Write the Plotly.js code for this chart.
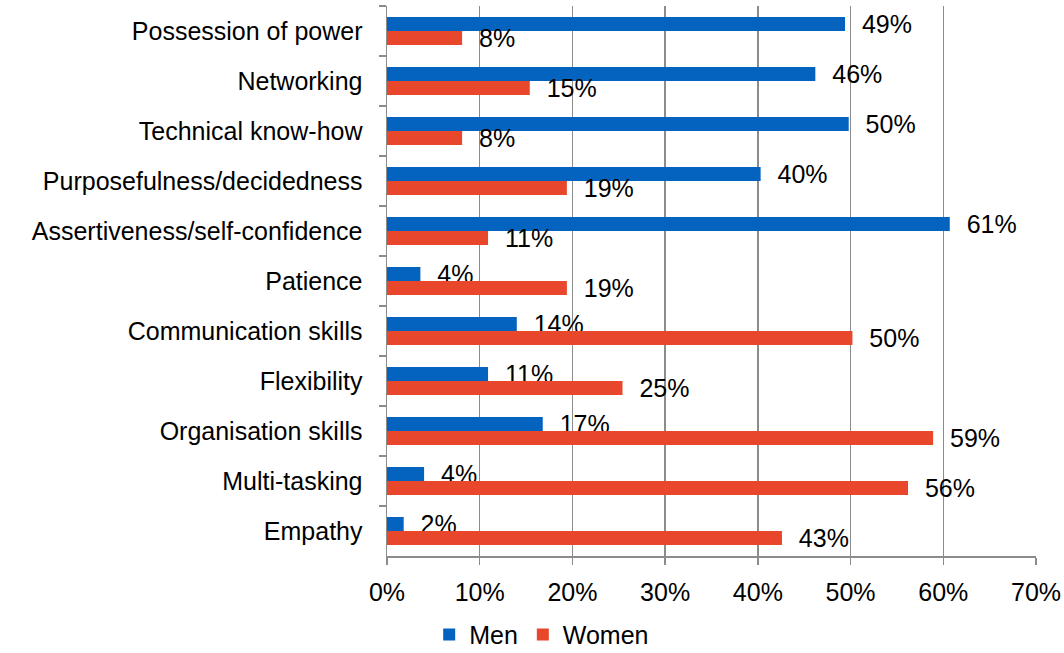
<!DOCTYPE html>
<html>
<head>
<meta charset="utf-8">
<script src="https://cdn.plot.ly/plotly-3.0.1.min.js"></script>
<style>html,body{margin:0;padding:0;background:#fff;}#chart{width:1064px;height:653px;}</style>
</head>
<body>
<div id="chart"></div>
<script>
const categories = [
  "Possession of power",
  "Networking",
  "Technical know-how",
  "Purposefulness/decidedness",
  "Assertiveness/self-confidence",
  "Patience",
  "Communication skills",
  "Flexibility",
  "Organisation skills",
  "Multi-tasking",
  "Empathy"
];
const menValues   = [49.4, 46.2, 49.8, 40.3, 60.7, 3.6, 14.0, 10.9, 16.8, 4.0, 1.8];
const womenValues = [8.1, 15.4, 8.1, 19.4, 10.9, 19.4, 50.2, 25.4, 58.9, 56.2, 42.6];
const xTickVals = [0, 10, 20, 30, 40, 50, 60, 70];
const xTickText = ["0%", "10%", "20%", "30%", "40%", "50%", "60%", "70%"];

const pad = "\u00A0\u00A0";
function labels(vals) { return vals.map(v => pad + Math.round(v) + "%"); }

const font = {family: "Liberation Sans, Arial, sans-serif", size: 25, color: "#000"};

const traces = [
  {type: "bar", orientation: "h", name: "Men", y: categories, x: menValues,
   marker: {color: "#0563C0"}, text: labels(menValues), textposition: "outside",
   textfont: font, constraintext: "none", cliponaxis: false, hoverinfo: "none"},
  {type: "bar", orientation: "h", name: "Women", y: categories, x: womenValues,
   marker: {color: "#E8472B"}, text: labels(womenValues), textposition: "outside",
   textfont: font, constraintext: "none", cliponaxis: false, hoverinfo: "none"}
];

const layout = {
  width: 1064, height: 653,
  margin: {l: 387, r: 28, t: 6, b: 97, autoexpand: false},
  paper_bgcolor: "#fff", plot_bgcolor: "#fff",
  font: font,
  barmode: "group", bargap: 0.44, bargroupgap: 0,
  showlegend: true,
  legend: {orientation: "h", x: 0.065, xanchor: "left", y: -0.143, yanchor: "middle",
           font: font, traceorder: "normal", itemwidth: 30,
           bgcolor: "rgba(0,0,0,0)", borderwidth: 0},
  xaxis: {range: [0, 70], tickvals: xTickVals, ticktext: xTickText,
          showgrid: true, gridcolor: "#8c8c8c", gridwidth: 1.5,
          showline: true, linecolor: "#8c8c8c", linewidth: 1.5,
          ticks: "outside", ticklen: 7, tickcolor: "#8c8c8c", tickwidth: 1.5,
          zeroline: false, tickfont: font, ticklabelstandoff: 6, fixedrange: true},
  yaxis: {type: "category", autorange: "reversed", tickson: "boundaries",
          showgrid: false, showline: true, linecolor: "#8c8c8c", linewidth: 1.5,
          ticks: "outside", ticklen: 7, tickcolor: "#8c8c8c", tickwidth: 1.5,
          tickfont: font, ticklabelstandoff: 18, fixedrange: true}
};

Plotly.newPlot("chart", traces, layout, {displayModeBar: false, staticPlot: true});
</script>
</body>
</html>
